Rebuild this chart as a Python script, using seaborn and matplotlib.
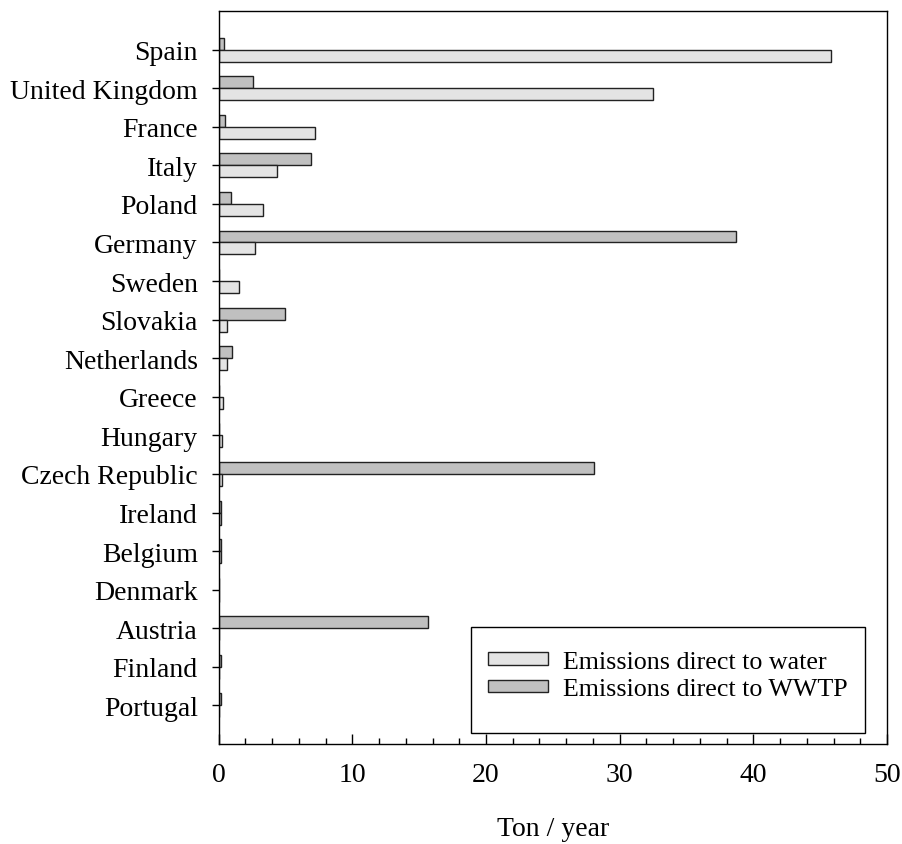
import matplotlib
matplotlib.use("Agg")
import matplotlib.pyplot as plt
from matplotlib.patches import Patch, Rectangle
from matplotlib.ticker import MultipleLocator
import pandas as pd
import seaborn as sns

countries = ["Spain", "United Kingdom", "France", "Italy", "Poland", "Germany",
             "Sweden", "Slovakia", "Netherlands", "Greece", "Hungary",
             "Czech Republic", "Ireland", "Belgium", "Denmark", "Austria",
             "Finland", "Portugal"]
to_water = [45.8, 32.5, 7.2, 4.4, 3.3, 2.7, 1.55, 0.6, 0.6, 0.35, 0.28,
            0.23, 0.18, 0.15, 0.05, 0.05, 0.05, 0.03]
to_wwtp = [0.4, 2.55, 0.5, 6.9, 0.9, 38.7, 0.0, 5.0, 1.03, 0.0, 0.0,
           28.1, 0.18, 0.15, 0.05, 15.65, 0.15, 0.15]

label_water = "Emissions direct to water"
label_wwtp = "Emissions direct to WWTP"
series_colors = {label_water: "#e4e4e4", label_wwtp: "#c0c0c0"}

df = pd.DataFrame({
    "country": countries * 2,
    "value": to_wwtp + to_water,
    "series": [label_wwtp] * len(countries) + [label_water] * len(countries),
})

sns.set_style("white")
plt.rcParams["font.family"] = ["Liberation Serif", "DejaVu Serif"]
plt.rcParams["font.size"] = 20
plt.rcParams["text.color"] = "black"
plt.rcParams["axes.labelcolor"] = "black"
plt.rcParams["xtick.color"] = "black"
plt.rcParams["ytick.color"] = "black"

fig = plt.figure(figsize=(9.03, 8.45), dpi=100)
ax = fig.add_axes([0.2421, 0.1183, 0.9823 - 0.2421, 0.9858 - 0.1183])

sns.barplot(data=df, x="value", y="country", hue="series",
            order=countries, hue_order=[label_wwtp, label_water],
            palette=series_colors, width=0.62, gap=0,
            edgecolor="#222222", linewidth=1.0, legend=False, ax=ax)

ax.set_xlim(0, 50)
ax.set_ylim(18, -1)
ax.xaxis.set_major_locator(MultipleLocator(10))
ax.xaxis.set_minor_locator(MultipleLocator(2))
ax.tick_params(axis="x", which="major", direction="in", length=7, width=1,
               pad=13, labelsize=20, bottom=True, colors="black")
ax.tick_params(axis="x", which="minor", direction="in", length=4, width=1,
               bottom=True, colors="black")
ax.tick_params(axis="y", which="major", direction="out", length=5, width=1,
               pad=10, labelsize=20, left=True, colors="black")

for side in ["left", "right", "top", "bottom"]:
    ax.spines[side].set_visible(True)
    ax.spines[side].set_color("black")
    ax.spines[side].set_linewidth(1.0)

ax.set_xlabel("Ton / year", fontsize=20, labelpad=21, color="black")
ax.set_ylabel("")

# legend box: a plain white frame with the entries placed inside it
ax.add_patch(Rectangle((0.3776, 0.015), 0.967 - 0.3776, 0.1596 - 0.015,
                       transform=ax.transAxes, facecolor="white",
                       edgecolor="black", linewidth=1.0, zorder=5))
handles = [Patch(facecolor=series_colors[label_water], edgecolor="#222222", linewidth=1.0),
           Patch(facecolor=series_colors[label_wwtp], edgecolor="#222222", linewidth=1.0)]
leg = ax.legend(handles, [label_water, label_wwtp], loc="center left",
                bbox_to_anchor=(0.403, 0.0935), fontsize=18.7, frameon=False,
                handlelength=2.3, handleheight=0.36, labelspacing=0.2,
                borderpad=0, borderaxespad=0, handletextpad=0.58)
leg.set_zorder(6)
for t in leg.get_texts():
    t.set_color("black")

fig.savefig("out.png", dpi=100)
